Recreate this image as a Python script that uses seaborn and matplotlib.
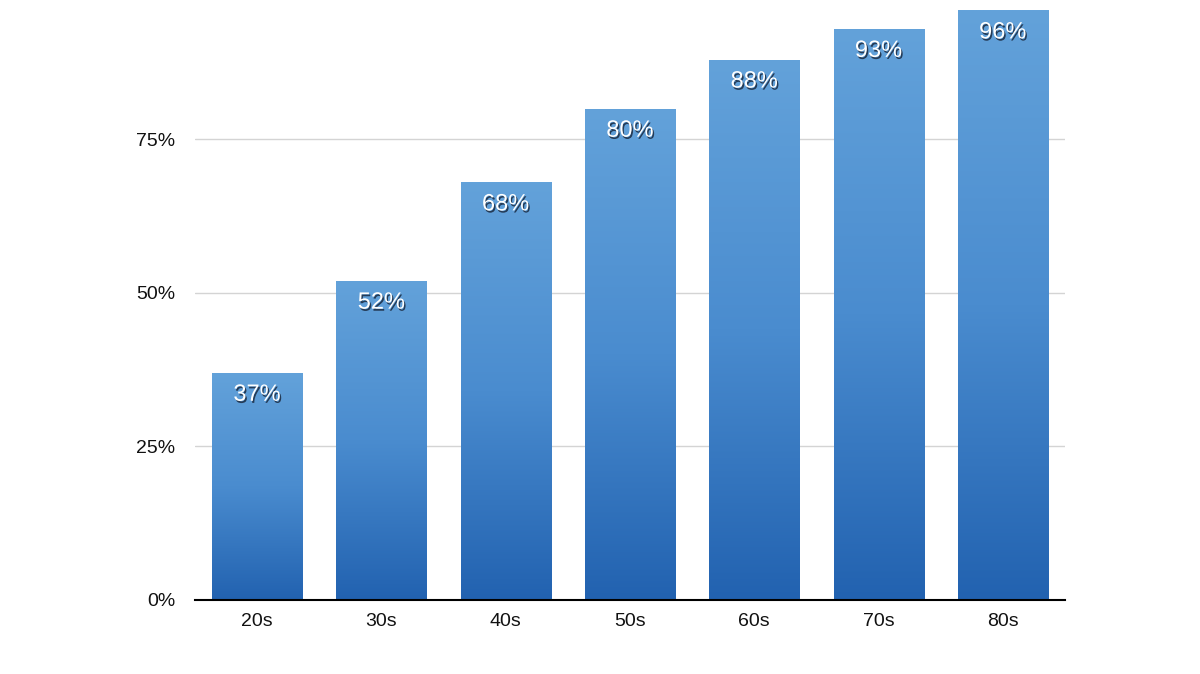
import numpy as np
import pandas as pd
import matplotlib
matplotlib.use('Agg')
import matplotlib.pyplot as plt
import matplotlib.patheffects as pe
from matplotlib.colors import LinearSegmentedColormap
from matplotlib.ticker import FuncFormatter
import seaborn as sns

decades = ['20s', '30s', '40s', '50s', '60s', '70s', '80s']
percent = [37, 52, 68, 80, 88, 93, 96]

df = pd.DataFrame({'decada': decades, 'pct': percent})

sns.set_style('white')
plt.rcParams['font.family'] = ['Liberation Sans', 'DejaVu Sans']

fig = plt.figure(figsize=(12, 6.74), dpi=100)
ax = fig.add_axes([195 / 1200, 74 / 674, 870 / 1200, 600 / 674])

sns.barplot(data=df, x='decada', y='pct', color='#3f84c8', width=0.725, ax=ax)

# gradiente vertical em cada barra
cmap = LinearSegmentedColormap.from_list('azul', ['#2262b0', '#4a8ccf', '#63a2da'])
grad = np.linspace(0, 1, 256).reshape(-1, 1)
for bar in ax.patches:
    x0, w, h = bar.get_x(), bar.get_width(), bar.get_height()
    im = ax.imshow(grad, cmap=cmap, origin='lower', aspect='auto',
                   extent=[x0, x0 + w, 0, h], zorder=2)
    im.set_clip_path(bar)
    bar.set_facecolor('none')
    bar.set_edgecolor('none')

    ax.annotate(f'{int(h)}%', (x0 + w / 2, h), xytext=(0, -22),
                textcoords='offset pixels', ha='center', va='center',
                color='white', fontsize=17, zorder=4,
                path_effects=[pe.withSimplePatchShadow(offset=(1, -1.5),
                                                       shadow_rgbFace='#1a2a40', alpha=0.85)])

ax.set_xlim(-0.5, 6.5)
ax.set_ylim(0, 97.7)
ax.set_yticks([0, 25, 50, 75])
ax.yaxis.set_major_formatter(FuncFormatter(lambda v, pos: f'{v:.0f}%'))
ax.grid(axis='y', color='#d4d4d4', linewidth=1)
ax.set_axisbelow(True)
ax.tick_params(axis='both', length=0, labelsize=14, colors='#111111')
ax.tick_params(axis='y', pad=14)
ax.tick_params(axis='x', pad=9)
ax.set_xlabel('')
ax.set_ylabel('')
for s in ['top', 'right', 'left']:
    ax.spines[s].set_visible(False)
ax.spines['bottom'].set_color('black')
ax.spines['bottom'].set_linewidth(1.5)
ax.spines['bottom'].set_zorder(5)

fig.savefig('out.png', dpi=100)
